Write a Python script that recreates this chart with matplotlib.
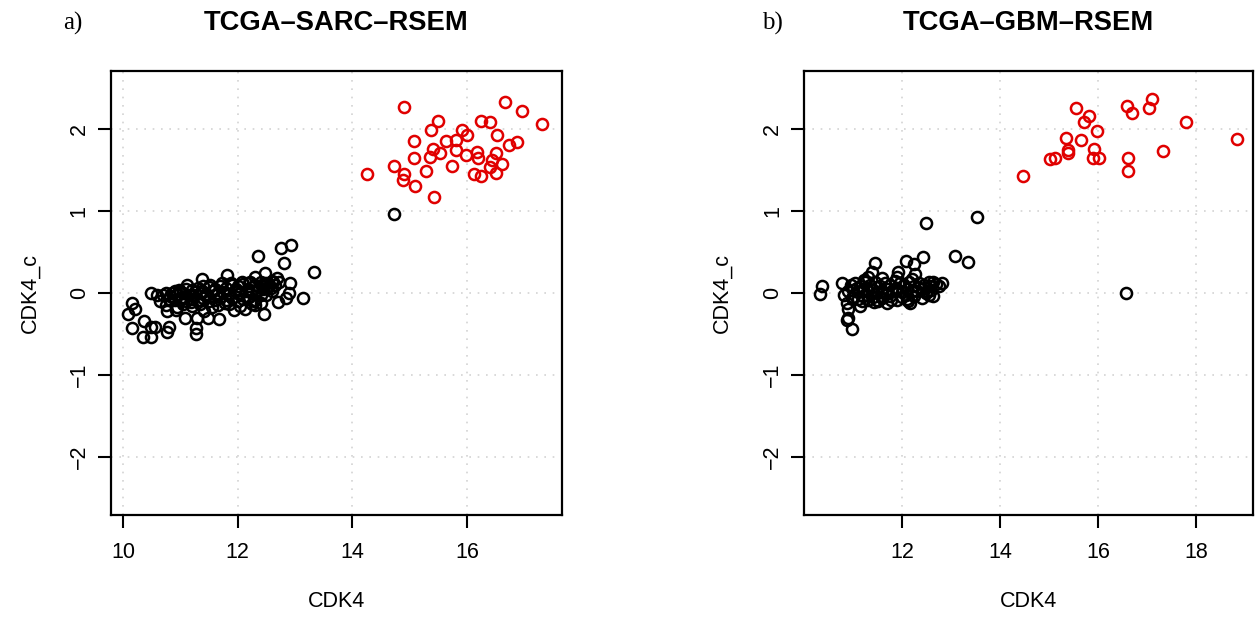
import numpy as np
import matplotlib
matplotlib.use("Agg")
import matplotlib.pyplot as plt

plt.rcParams['font.family'] = ['Liberation Sans', 'DejaVu Sans']

# --- panel a: TCGA-SARC-RSEM ---
sarc_black_x = [
    12.93, 12.76, 12.35, 12.81, 13.34, 11.81, 12.48, 12.31, 11.37, 12.91,
    13.14, 12.89, 12.71, 12.85, 12.46, 10.48, 10.16, 10.21, 10.08, 10.37,
    10.15, 10.48, 10.56, 10.35, 10.49, 10.77, 10.80, 11.27, 11.27, 11.08,
    11.29, 11.67, 11.49, 11.42, 10.77, 10.93, 11.93, 12.12, 12.30, 14.73,
    # band top
    10.75, 10.90, 11.00, 11.10, 11.20, 11.30, 11.40, 11.50, 11.60, 11.70,
    11.80, 11.90, 12.00, 12.10, 12.20, 12.30, 12.40, 12.50, 12.60, 12.65, 12.55,
    # band middle
    10.60, 10.70, 10.85, 10.95, 11.05, 11.15, 11.25, 11.35, 11.45, 11.55,
    11.65, 11.75, 11.85, 11.95, 12.05, 12.15, 12.25, 12.35, 12.45, 12.60,
    # band lower
    10.65, 10.80, 10.90, 11.00, 11.10, 11.20, 11.30, 11.40, 11.50, 11.60,
    11.70, 11.80, 11.90, 12.00, 12.10, 12.20, 12.30, 12.40, 12.50,
    # band bottom
    10.75, 10.95, 11.05, 11.20, 11.35, 11.55, 11.65, 11.85, 12.05, 12.25, 12.40,
    # extra fill
    10.82, 11.03, 11.22, 11.44, 11.62, 11.83, 12.02, 12.18, 12.38, 12.52,
    10.98, 11.18, 11.38, 11.58, 11.78, 11.98, 12.28, 12.68, 12.72, 11.12,
    11.72, 12.44, 12.62, 12.58, 11.52, 12.22, 11.88, 12.08,
]
sarc_black_y = [
    0.58, 0.55, 0.45, 0.36, 0.26, 0.22, 0.24, 0.20, 0.17, 0.12,
    -0.06, 0.00, -0.11, -0.06, -0.26, 0.00, -0.12, -0.19, -0.26, -0.34,
    -0.43, -0.41, -0.42, -0.53, -0.53, -0.48, -0.41, -0.43, -0.50, -0.30,
    -0.30, -0.32, -0.30, -0.22, -0.22, -0.21, -0.21, -0.19, -0.15, 0.96,
    0.00, 0.02, 0.03, 0.05, 0.04, 0.06, 0.08, 0.07, 0.05, 0.09,
    0.06, 0.10, 0.08, 0.11, 0.12, 0.10, 0.14, 0.12, 0.15, 0.10, 0.08,
    -0.02, -0.03, 0.00, -0.01, 0.00, -0.02, 0.01, 0.00, -0.01, 0.02,
    0.00, 0.01, -0.01, 0.02, 0.00, 0.03, 0.02, 0.04, 0.05, 0.03,
    -0.10, -0.07, -0.09, -0.08, -0.10, -0.07, -0.09, -0.06, -0.10, -0.08,
    -0.05, -0.09, -0.06, -0.10, -0.07, -0.05, -0.08, -0.03, -0.02,
    -0.15, -0.17, -0.14, -0.16, -0.13, -0.17, -0.15, -0.13, -0.16, -0.14, -0.12,
    -0.04, -0.05, -0.03, -0.04, -0.02, -0.03, -0.01, 0.05, 0.07, 0.06,
    0.04, -0.11, 0.03, 0.04, -0.12, 0.05, -0.10, 0.18, 0.13, 0.10,
    0.12, 0.09, 0.13, 0.06, 0.10, 0.14, 0.12, 0.13,
]
sarc_red_x = [
    14.90, 16.66, 16.97, 17.31, 15.49, 15.38, 16.25, 16.40, 15.91, 16.00,
    16.53, 15.08, 15.64, 15.81, 15.41, 15.53, 15.35, 15.08, 15.81, 15.99,
    16.17, 16.20, 16.51, 16.43, 16.74, 16.87, 16.61, 16.40, 15.74, 14.73,
    14.25, 14.90, 14.89, 15.28, 16.12, 16.24, 16.50, 15.09, 15.43,
]
sarc_red_y = [
    2.27, 2.33, 2.22, 2.06, 2.10, 1.98, 2.10, 2.08, 1.98, 1.93,
    1.92, 1.85, 1.85, 1.86, 1.75, 1.71, 1.66, 1.65, 1.74, 1.68,
    1.72, 1.64, 1.70, 1.62, 1.80, 1.84, 1.57, 1.53, 1.55, 1.55,
    1.45, 1.45, 1.38, 1.49, 1.45, 1.42, 1.46, 1.30, 1.17,
]

# --- panel b: TCGA-GBM-RSEM ---
gbm_black_x = [
    16.57, 13.52, 12.49, 13.08, 13.35, 12.43, 12.08, 12.25, 12.27, 11.92,
    11.45, 11.38, 10.36, 10.33, 10.78, 10.82, 10.87, 10.90, 11.14, 10.90,
    10.87, 10.97, 12.16, 11.70, 11.52, 12.63, 12.64, 12.81, 12.76,
    # band upper
    10.95, 11.05, 11.15, 11.25, 11.35, 11.45, 11.55, 11.65, 11.75, 11.85,
    11.95, 12.05, 12.15, 12.25, 12.35, 12.45, 12.55, 12.70,
    # band middle
    10.90, 11.00, 11.10, 11.20, 11.30, 11.40, 11.50, 11.60, 11.70, 11.80,
    11.90, 12.00, 12.10, 12.20, 12.30, 12.40, 12.50, 12.60,
    # band lower
    11.00, 11.10, 11.20, 11.30, 11.40, 11.50, 11.60, 11.75, 11.90, 12.00,
    12.10, 12.25, 12.40, 12.55,
    # sparse above
    11.30, 11.60, 11.90, 12.20,
    # extra fill
    11.08, 11.28, 11.48, 11.68, 11.88, 12.08, 12.33, 12.58, 11.18, 11.42,
    11.78, 12.12, 12.48, 10.98, 11.22,
]
gbm_black_y = [
    0.00, 0.93, 0.85, 0.45, 0.38, 0.44, 0.39, 0.35, 0.23, 0.25,
    0.37, 0.25, 0.09, -0.01, 0.12, -0.02, -0.12, -0.20, -0.16, -0.30,
    -0.33, -0.44, -0.12, -0.12, -0.10, -0.04, 0.14, 0.12, 0.08,
    0.10, 0.12, 0.08, 0.13, 0.10, 0.14, 0.09, 0.12, 0.10, 0.15,
    0.12, 0.10, 0.13, 0.09, 0.12, 0.10, 0.13, 0.11,
    0.02, 0.04, 0.01, 0.05, 0.02, 0.04, 0.00, 0.03, 0.05, 0.02,
    0.04, 0.01, 0.05, 0.03, 0.02, 0.05, 0.03, 0.04,
    -0.05, -0.07, -0.04, -0.08, -0.05, -0.09, -0.06, -0.04, -0.08, -0.05,
    -0.07, -0.04, -0.06, -0.03,
    0.20, 0.18, 0.20, 0.17,
    0.06, -0.02, 0.07, -0.01, 0.06, -0.02, 0.07, 0.08, -0.10, -0.11,
    -0.09, -0.10, 0.00, -0.06, 0.16,
]
gbm_red_x = [
    15.55, 15.82, 15.71, 15.97, 15.34, 15.65, 15.39, 15.39, 15.92, 15.90,
    16.01, 15.12, 15.01, 14.46, 16.59, 16.69, 17.03, 17.10, 17.79, 18.84,
    17.33, 16.61, 16.61,
]
gbm_red_y = [
    2.25, 2.15, 2.08, 1.97, 1.89, 1.86, 1.74, 1.70, 1.75, 1.65,
    1.64, 1.65, 1.63, 1.42, 2.28, 2.19, 2.25, 2.36, 2.08, 1.88,
    1.73, 1.65, 1.48,
]

panels = [
    dict(tag="a)", title="TCGA\u2013SARC\u2013RSEM",
         bx=sarc_black_x, by=sarc_black_y, rx=sarc_red_x, ry=sarc_red_y,
         xticks=[10, 12, 14, 16], xlim=(9.785, 17.66),
         rect=[0.0882, 0.1667, 0.3596, 0.7184], tagx=0.050, ylabx=0.024),
    dict(tag="b)", title="TCGA\u2013GBM\u2013RSEM",
         bx=gbm_black_x, by=gbm_black_y, rx=gbm_red_x, ry=gbm_red_y,
         xticks=[12, 14, 16, 18], xlim=(10.0, 19.16),
         rect=[0.6406, 0.1667, 0.3578, 0.7184], tagx=0.607, ylabx=0.575),
]

fig = plt.figure(figsize=(12.55, 6.18), dpi=100)

for p in panels:
    ax = fig.add_axes(p["rect"])
    # grid() in light gray dots
    for t in p["xticks"]:
        ax.axvline(t, color="#d3d3d3", lw=1.2, ls=(0, (1, 4)), zorder=0)
    for t in [-2, -1, 0, 1, 2]:
        ax.axhline(t, color="#d3d3d3", lw=1.2, ls=(0, (1, 4)), zorder=0)
    ax.plot(p["bx"], p["by"], "o", mfc="none", mec="black", ms=8, mew=1.8)
    ax.plot(p["rx"], p["ry"], "o", mfc="none", mec="#e00000", ms=8, mew=1.8)
    ax.set_xlim(*p["xlim"])
    ax.set_ylim(-2.704, 2.704)
    ax.set_xticks(p["xticks"])
    ax.set_yticks([-2, -1, 0, 1, 2])
    ax.set_yticklabels(["\u22122", "\u22121", "0", "1", "2"], rotation=90, va="center")
    ax.tick_params(direction="out", length=9.3, width=1.5, labelsize=15.5)
    ax.tick_params(axis="x", pad=10.5)
    ax.tick_params(axis="y", pad=5.7)
    for s in ax.spines.values():
        s.set_linewidth(1.6)
    cx = p["rect"][0] + p["rect"][2] / 2
    fig.text(cx, 0.962, p["title"], ha="center", va="center", fontsize=19.7, fontweight="bold")
    fig.text(p["tagx"], 0.962, p["tag"], ha="left", va="center", fontsize=18, family="Liberation Serif")
    fig.text(cx, 0.026, "CDK4", ha="center", va="center", fontsize=15.5)
    fig.text(p["ylabx"], 0.5255, "CDK4_c", ha="center", va="center", fontsize=15.5, rotation=90)

fig.savefig("out.png", dpi=100)
